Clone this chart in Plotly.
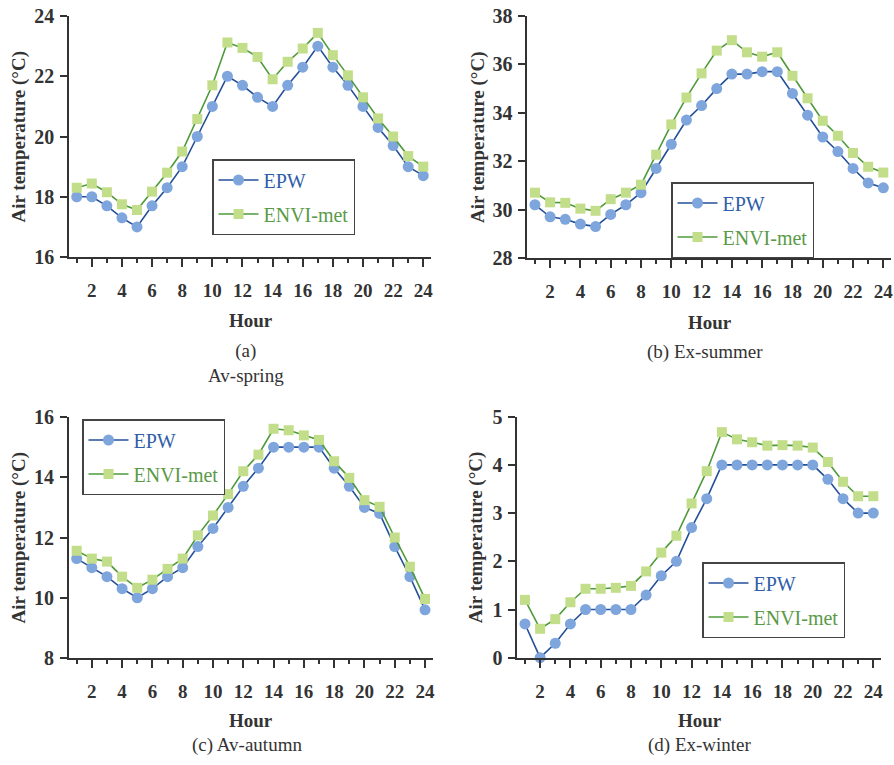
import plotly.graph_objects as go

hours = list(range(1, 25))

epw_spring = [18.0, 18.0, 17.7, 17.3, 17.0, 17.7, 18.3, 19.0, 20.0, 21.0, 22.0, 21.7,
              21.3, 21.0, 21.7, 22.3, 23.0, 22.3, 21.7, 21.0, 20.3, 19.7, 19.0, 18.7]
envi_spring = [18.3, 18.44, 18.15, 17.75, 17.56, 18.17, 18.8, 19.5, 20.58, 21.7, 23.12, 22.94,
               22.64, 21.9, 22.48, 22.92, 23.44, 22.7, 22.03, 21.3, 20.6, 20.0, 19.35, 19.0]

epw_summer = [30.2, 29.7, 29.6, 29.4, 29.3, 29.8, 30.2, 30.7, 31.7, 32.7, 33.7, 34.3,
              35.0, 35.6, 35.6, 35.7, 35.7, 34.8, 33.9, 33.0, 32.4, 31.7, 31.1, 30.9]
envi_summer = [30.7, 30.3, 30.28, 30.04, 29.95, 30.43, 30.7, 31.03, 32.27, 33.52, 34.63, 35.63,
               36.57, 37.0, 36.5, 36.32, 36.5, 35.53, 34.6, 33.67, 33.05, 32.34, 31.77, 31.53]

epw_autumn = [11.3, 11.0, 10.7, 10.3, 10.0, 10.3, 10.7, 11.0, 11.7, 12.3, 13.0, 13.7,
              14.3, 15.0, 15.0, 15.0, 15.0, 14.3, 13.7, 13.0, 12.8, 11.7, 10.7, 9.6]
envi_autumn = [11.56, 11.3, 11.2, 10.7, 10.33, 10.6, 10.96, 11.3, 12.07, 12.73, 13.44, 14.2,
               14.75, 15.61, 15.56, 15.39, 15.24, 14.53, 13.98, 13.24, 13.02, 12.0, 11.03, 9.96]

epw_winter = [0.7, 0.0, 0.3, 0.7, 1.0, 1.0, 1.0, 1.0, 1.3, 1.7, 2.0, 2.7,
              3.3, 4.0, 4.0, 4.0, 4.0, 4.0, 4.0, 4.0, 3.7, 3.3, 3.0, 3.0]
envi_winter = [1.2, 0.6, 0.8, 1.15, 1.43, 1.43, 1.45, 1.49, 1.79, 2.18, 2.53, 3.2,
               3.87, 4.68, 4.53, 4.47, 4.4, 4.41, 4.4, 4.36, 4.06, 3.65, 3.35, 3.35]

series_names = ["EPW", "ENVI-met"]
panel_data = [(epw_spring, envi_spring), (epw_summer, envi_summer),
              (epw_autumn, envi_autumn), (epw_winter, envi_winter)]
y_ranges = [(16, 24), (28, 38), (8, 16), (0, 5)]
y_dticks = [2, 2, 2, 1]
y_title = "Air temperature (°C)"
x_title = "Hour"
captions = ["(a)<br>Av-spring", "(b) Ex-summer", "(c) Av-autumn", "(d) Ex-winter"]

W, H = 894, 765
FONT = "Liberation Serif"
AX = "#333333"
EPW_LINE, EPW_MARK, EPW_TEXT = "#24509a", "#7ea6dc", "#2f5ea8"
ENV_LINE, ENV_MARK, ENV_TEXT = "#4e9a3a", "#c3de8a", "#5a9a48"

# pixel layout of each panel: (x0, x1, ytop, ybottom)
panels_px = [(69.2, 430.8, 16, 257), (527.4, 890.9, 16, 258),
             (69.1, 432.6, 417, 658), (517.4, 880.9, 416.7, 657.7)]
legend_px = [(212, 159), (671, 182), (82, 419), (702, 562)]
ytitle_x = [18, 478, 18, 476]
hour_px = [(251, 320), (710, 322), (251, 720), (700, 720)]
cap_px = [(246, 363), (705, 352), (247, 745), (700, 745)]


def legend_name(text, color):
    return '<span style="color:%s;font-family:\'Liberation Serif\'">%s</span>' % (color, text)


fig = go.Figure()
layout = dict(width=W, height=H, margin=dict(l=0, r=0, t=0, b=0),
              paper_bgcolor="white", plot_bgcolor="white",
              font=dict(family=FONT, color=AX), showlegend=True)
annotations = []

for i, (epw, envi) in enumerate(panel_data):
    k = "" if i == 0 else str(i + 1)
    lg = "legend" if i == 0 else "legend" + str(i + 1)
    fig.add_trace(go.Scatter(
        x=hours, y=epw, mode="lines+markers", xaxis="x" + k, yaxis="y" + k,
        name=legend_name(series_names[0], EPW_TEXT),
        legend=lg, legendgroup="a" + k, cliponaxis=False,
        line=dict(color=EPW_LINE, width=1.6),
        marker=dict(symbol="circle", size=11, color=EPW_MARK)))
    fig.add_trace(go.Scatter(
        x=hours, y=envi, mode="lines+markers", xaxis="x" + k, yaxis="y" + k,
        name=legend_name(series_names[1], ENV_TEXT),
        legend=lg, legendgroup="b" + k, cliponaxis=False,
        line=dict(color=ENV_LINE, width=1.6),
        marker=dict(symbol="square", size=10, color=ENV_MARK)))
    x0, x1, yt, yb = panels_px[i]
    layout["xaxis" + k] = dict(
        domain=[x0 / W, x1 / W], anchor="y" + k, range=[0.5, 24.5],
        tick0=0, dtick=2, showgrid=False, zeroline=False,
        showline=True, linecolor=AX, linewidth=2,
        ticks="outside", ticklen=8, tickwidth=2, tickcolor=AX,
        ticklabelstandoff=7,
        tickfont=dict(family=FONT, size=19, color=AX, weight="bold"),
        minor=dict(dtick=1, tick0=1, ticks="outside", ticklen=4, tickwidth=2, tickcolor=AX),
        automargin=False)
    lo, hi = y_ranges[i]
    layout["yaxis" + k] = dict(
        domain=[1 - yb / H, 1 - yt / H], anchor="x" + k, range=[lo, hi],
        tick0=lo, dtick=y_dticks[i], showgrid=False, zeroline=False,
        showline=True, linecolor=AX, linewidth=2,
        ticks="outside", ticklen=7, tickwidth=2, tickcolor=AX,
        ticklabelstandoff=2,
        tickfont=dict(family=FONT, size=20, color=AX, weight="bold"),
        automargin=False)
    lx, ly = legend_px[i]
    layout[lg] = dict(x=lx / W, y=1 - ly / H, xanchor="left", yanchor="top",
                      bgcolor="white", bordercolor="#444444", borderwidth=1.5,
                      font=dict(family=FONT, size=20), tracegroupgap=5,
                      itemwidth=40)
    annotations.append(dict(text="<b>%s</b>" % y_title, textangle=-90,
                            x=ytitle_x[i] / W, y=1 - (yt + yb) / 2 / H,
                            xref="paper", yref="paper", showarrow=False,
                            xanchor="center", yanchor="middle",
                            font=dict(family=FONT, size=19, color=AX)))
    hx, hy = hour_px[i]
    annotations.append(dict(text="<b>%s</b>" % x_title, x=hx / W, y=1 - hy / H,
                            xref="paper", yref="paper", showarrow=False,
                            xanchor="center", yanchor="middle",
                            font=dict(family=FONT, size=19, color=AX)))
    cx, cy = cap_px[i]
    annotations.append(dict(text=captions[i], x=cx / W, y=1 - cy / H,
                            xref="paper", yref="paper", showarrow=False,
                            xanchor="center", yanchor="middle",
                            font=dict(family=FONT, size=19, color=AX)))

layout["annotations"] = annotations
fig.update_layout(**layout)
fig.write_html("out.html")
